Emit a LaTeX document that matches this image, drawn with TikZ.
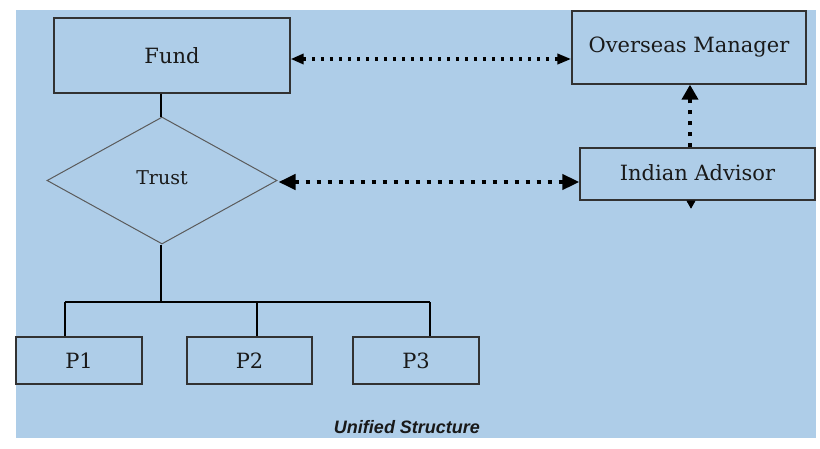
\documentclass[tikz,border=0pt]{standalone}
\usepackage{fontspec}
\setmainfont{DejaVu Serif}
\newfontfamily\captionfont{Liberation Sans}
\usetikzlibrary{shapes.geometric,arrows.meta}
\definecolor{panel}{RGB}{174,205,232}
\definecolor{edge}{RGB}{50,50,50}
\tikzset{
  box/.style={draw=edge, line width=1.3pt, inner sep=0pt, align=center,
    font=\fontsize{21}{24}\selectfont, text=black!90},
  rhomb/.style={diamond, draw=edge!80, line width=1pt, inner sep=0pt,
    font=\fontsize{19}{22}\selectfont, text=black!90},
  tree/.style={draw=black, line width=1.2pt},
  dotlink/.style={line width=4pt, dash pattern=on 4pt off 7pt, black},
  thinlink/.style={line width=3.5pt, dash pattern=on 3.5pt off 5.5pt, black}
}
\begin{document}
\begin{tikzpicture}[x=1pt, y=-1pt]
  % page and coloured panel
  \fill[white] (0,0) rectangle (820,448);
  \useasboundingbox (0,0) rectangle (820,448);
  \fill[panel] (16,10) rectangle (816,438);

  % entities
  \node[box, minimum width=236pt, minimum height=75pt] (fund) at (172,55.5) {\raisebox{-2pt}{Fund}};
  \node[box, minimum width=234pt, minimum height=73pt] (om) at (689,47.5) {\raisebox{-4pt}{Overseas Manager}};
  \node[box, minimum width=235pt, minimum height=52pt] (ia) at (697.5,174) {\raisebox{3pt}{Indian Advisor}};
  \node[rhomb, minimum width=230pt, minimum height=127pt] (trust) at (162,180.5) {\raisebox{5pt}{Trust}};
  \node[box, minimum width=126pt, minimum height=47pt] (p1) at (79,360.5) {P1};
  \node[box, minimum width=125pt, minimum height=47pt] (p2) at (249.5,360.5) {P2};
  \node[box, minimum width=126pt, minimum height=47pt] (p3) at (416,360.5) {P3};

  % ownership tree
  \coordinate (bus) at (161,302);
  \coordinate (d1) at (65,302);
  \coordinate (d2) at (257,302);
  \coordinate (d3) at (430,302);
  \draw[tree] (fund.south -| bus) -- (trust.north -| bus);
  \draw[tree] (trust.south -| bus) -- (bus);
  \draw[tree] (d1) -- (d3);
  \draw[tree] (d1) -- (d1 |- p1.north);
  \draw[tree] (d2) -- (d2 |- p2.north);
  \draw[tree] (d3) -- (d3 |- p3.north);

  % advisory links
  \draw[thinlink, {Triangle[length=13pt,width=10pt]}-{Triangle[length=14pt,width=10pt]}]
    ([yshift=-3.5pt]fund.east) -- ([yshift=-3.5pt]fund.east -| om.west);
  \draw[dotlink, {Triangle[length=17pt,width=15pt]}-{Triangle[length=17pt,width=15pt]}]
    ([xshift=1pt,yshift=-1.5pt]trust.east) -- ([yshift=-1.5pt]trust.east -| ia.west);
  \draw[dotlink, -{Triangle[length=15pt,width=16pt]}]
    ([xshift=1pt]om.south |- ia.north) -- ([xshift=1pt]om.south);
  \coordinate (tail) at ([xshift=2pt]om.south |- ia.south);
  \draw[black, line width=0.5pt, -{Triangle[length=8pt,width=9pt]}] (tail) -- ++(0,8);

  % caption
  \node[font=\captionfont\bfseries\itshape\fontsize{18}{20}\selectfont, text=black!90] (cap) at (407,427) {Unified Structure};
\end{tikzpicture}
\end{document}
